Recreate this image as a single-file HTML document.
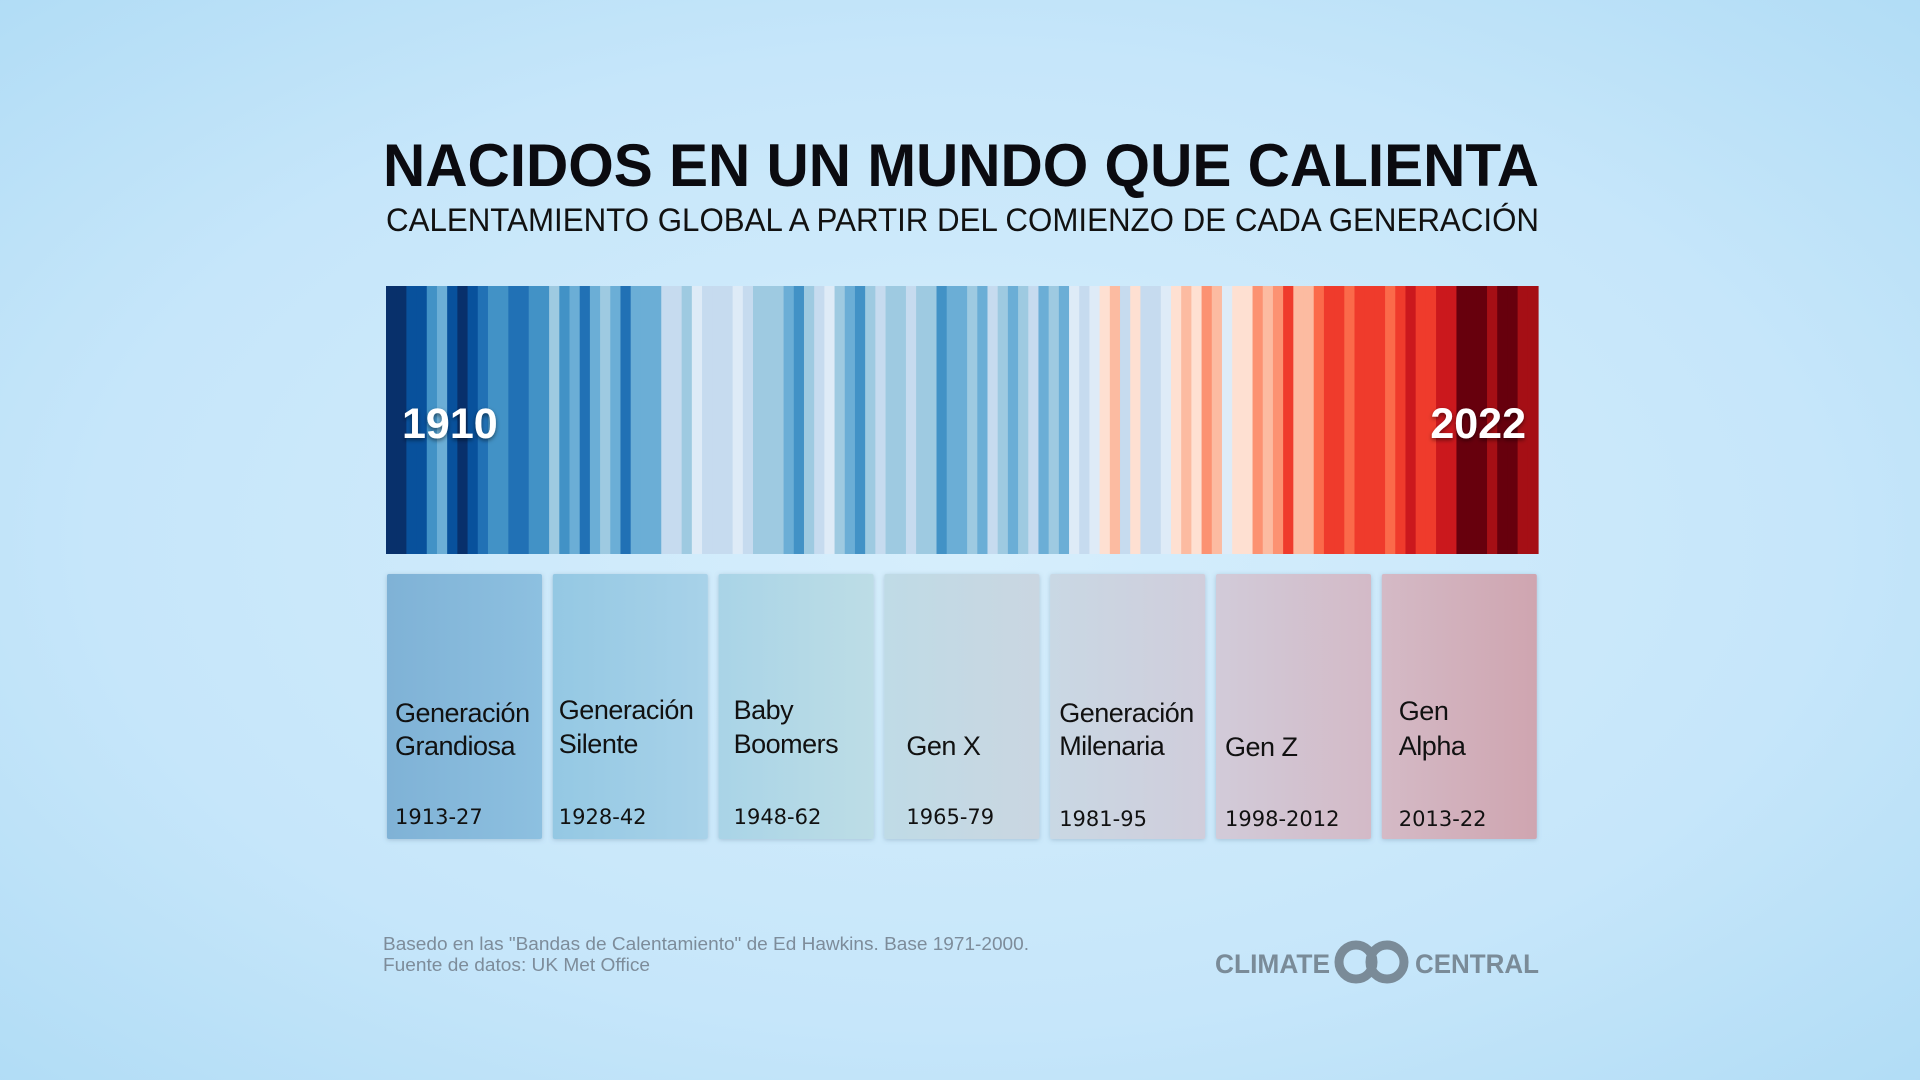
<!DOCTYPE html>
<html><head><meta charset="utf-8"><style>
html,body{margin:0;padding:0;width:1920px;height:1080px;overflow:hidden}
svg{display:block}
</style></head><body>
<svg id="chart" width="1920" height="1080" viewBox="0 0 1920 1080" xmlns="http://www.w3.org/2000/svg">
<defs>
<radialGradient id="bg" cx="50%" cy="50%" r="75%">
<stop offset="0" stop-color="#d6eefc"/><stop offset="0.6" stop-color="#c6e6fa"/><stop offset="1" stop-color="#aedbf5"/>
</radialGradient>
<filter id="sh" x="-20%" y="-20%" width="140%" height="140%"><feDropShadow dx="0" dy="1" stdDeviation="2.5" flood-color="#5a7a95" flood-opacity="0.35"/></filter>
<filter id="tsh"><feDropShadow dx="0" dy="2" stdDeviation="2" flood-color="#000" flood-opacity="0.5"/></filter>
</defs>
<rect x="0" y="0" width="1920" height="1080" fill="url(#bg)"/>
<text x="383" y="186" font-family="Liberation Sans, sans-serif" font-weight="bold" font-size="60" fill="#0b0b10" textLength="1156" lengthAdjust="spacingAndGlyphs">NACIDOS EN UN MUNDO QUE CALIENTA</text>
<text x="386" y="231" font-family="Liberation Sans, sans-serif" font-size="32" fill="#111" textLength="1153" lengthAdjust="spacingAndGlyphs">CALENTAMIENTO GLOBAL A PARTIR DEL COMIENZO DE CADA GENERACIÓN</text>
<g id="stripes"></g>
<text x="402" y="438" font-family="Liberation Sans, sans-serif" font-weight="bold" font-size="43" fill="#fff" filter="url(#tsh)">1910</text>
<text x="1526" y="438" text-anchor="end" font-family="Liberation Sans, sans-serif" font-weight="bold" font-size="43" fill="#fff" filter="url(#tsh)">2022</text>
<g id="cards"></g>
<text font-family="Liberation Sans, sans-serif" font-size="18" fill="#7d8c9a">
<tspan x="383" y="950" textLength="646" lengthAdjust="spacingAndGlyphs">Basedo en las "Bandas de Calentamiento" de  Ed Hawkins. Base 1971-2000.</tspan>
<tspan x="383" y="971" textLength="267" lengthAdjust="spacingAndGlyphs">Fuente de datos: UK Met Office</tspan></text>
<g>
<text x="1215" y="973" font-family="Liberation Sans, sans-serif" font-weight="bold" font-size="27" fill="#7a8b98" textLength="115" lengthAdjust="spacingAndGlyphs">CLIMATE</text>
<circle cx="1356" cy="962" r="17" fill="none" stroke="#7a8b98" stroke-width="9"/>
<circle cx="1387" cy="962" r="17" fill="none" stroke="#7a8b98" stroke-width="9"/>
<text x="1415" y="973" font-family="Liberation Sans, sans-serif" font-weight="bold" font-size="27" fill="#7a8b98" textLength="124" lengthAdjust="spacingAndGlyphs">CENTRAL</text>
</g>
</svg>
<script>
const years = [];
for (let y = 1910; y <= 2022; y++) years.push(y);
const anomalyLevel = [-8,-8,-7,-7,-5,-4,-7,-8,-7,-6,-5,-5,-6,-6,-5,-5,-3,-5,-4,-6,-4,-3,-4,-6,-4,-4,-4,-2,-2,-3,-1,-2,-2,-2,-1,-2,
-3,-3,-3,-4,-5,-3,-2,-1,-3,-4,-5,-3,-2,-3,-3,-2,-3,-3,-5,-4,-4,-3,-4,-2,-3,-4,-3,-2,-4,-3,-4,-1,-2,-1,1,2,-2,1,-2,-2,-1,
1,2,1,3,2,-1,1,1,3,2,3,5,2,2,4,5,5,4,5,5,5,4,5,6,5,5,6,6,8,8,8,7,8,8,7,7];
const genNames = [["Generación","Grandiosa"],["Generación","Silente"],["Baby","Boomers"],["Gen X"],["Generación","Milenaria"],["Gen Z"],["Gen","Alpha"]];
const genYears = ["1913-27","1928-42","1948-62","1965-79","1981-95","1998-2012","2013-22"];
const palette = {"-8":"#08306b","-7":"#08519c","-6":"#2171b5","-5":"#4292c6","-4":"#6baed6","-3":"#9ecae1","-2":"#c6dbef","-1":"#deebf7",
"1":"#fee0d2","2":"#fcbba1","3":"#fc9272","4":"#fb6a4a","5":"#ef3b2c","6":"#cb181d","7":"#a50f15","8":"#67000d"};
const cardColors = [["#7fb2d6","#8dc0e0"],["#94c8e3","#a8d2e9"],["#a9d4e7","#bddde6"],["#bfdbe6","#cad6e1"],["#c9d8e4","#d0cddb"],["#d2cbd9","#d3bac7"],["#d4bac6","#cfa5b0"]];
const NS="http://www.w3.org/2000/svg";
const stripeX0=386,stripeX1=1538,stripeTop=286,stripeH=268;
const sw=(stripeX1-stripeX0)/years.length;
const xScale=i=>stripeX0+i*sw;
const sg=document.getElementById('stripes');
anomalyLevel.forEach((v,i)=>{
 const r=document.createElementNS(NS,'rect');
 r.setAttribute('x',xScale(i));r.setAttribute('y',stripeTop);
 r.setAttribute('width',sw+0.6);r.setAttribute('height',stripeH);
 r.setAttribute('fill',palette[String(v)]);
 
 
 sg.appendChild(r);
});
const cg=document.getElementById('cards');
const defsEl=document.querySelector('defs');
const cw=155,cstep=165.8,cardY=574,cardH=265;
const nameBase=[[722,755],[719,753],[719,753],[null,755],[722,755],[null,756],[720,755]];
const yearBase=[824,824,824,824,826,826,826];
const txOff=[8,6,15,22,9,9,17];
genYears.forEach((gy,i)=>{
 const cx=387+i*cstep;
 const gr=document.createElementNS(NS,'linearGradient');
 gr.setAttribute('id','cg'+i);
 gr.innerHTML='<stop offset="0" stop-color="'+cardColors[i][0]+'"/><stop offset="1" stop-color="'+cardColors[i][1]+'"/>';
 defsEl.appendChild(gr);
 const g=document.createElementNS(NS,'g');
 
 
 const r=document.createElementNS(NS,'rect');
 r.setAttribute('x',cx);r.setAttribute('y',cardY);r.setAttribute('width',cw);r.setAttribute('height',cardH);r.setAttribute('rx',2);
 r.setAttribute('fill','url(#cg'+i+')');r.setAttribute('filter','url(#sh)');
 
 
 g.appendChild(r);
 const names=genNames[i];
 names.forEach((n,j)=>{
  const t=document.createElementNS(NS,'text');
  const yy=names.length===1?nameBase[i][1]:nameBase[i][j];
  t.setAttribute('x',cx+txOff[i]);t.setAttribute('y',yy);
  t.setAttribute('font-family','Liberation Sans, sans-serif');t.setAttribute('font-size','27');t.setAttribute('fill','#111');
  t.setAttribute('letter-spacing','-0.5');
  t.textContent=n;
  
  
  g.appendChild(t);
 });
 const ty=document.createElementNS(NS,'text');
 ty.setAttribute('x',cx+txOff[i]);ty.setAttribute('y',yearBase[i]);
 ty.setAttribute('font-family','DejaVu Sans, sans-serif');ty.setAttribute('font-size','21');ty.setAttribute('fill','#111');
 ty.textContent=gy;
 
 
 g.appendChild(ty);
 cg.appendChild(g);
});
</script>
</body></html>
